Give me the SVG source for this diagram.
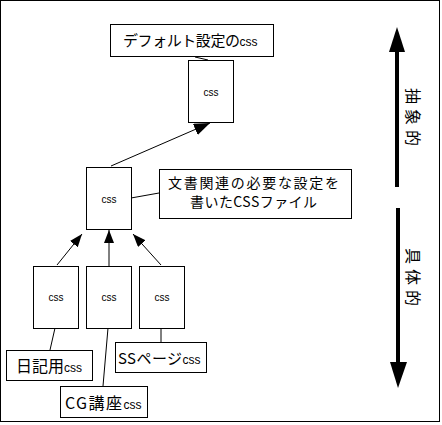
<svg xmlns="http://www.w3.org/2000/svg" width="442" height="425" viewBox="0 0 442 425">
<style>
.box{fill:#fff;stroke:#000;stroke-width:1}
.ln{stroke:#000;stroke-width:1;fill:none}
.jp{font-family:"Noto Sans CJK JP","DejaVu Sans",sans-serif;fill:#000}
.css{font-family:"Liberation Sans","DejaVu Sans",sans-serif;fill:#000}
.big{fill:#000}
</style>
<defs>
<marker id="ah" markerUnits="userSpaceOnUse" markerWidth="13" markerHeight="10" refX="13" refY="5" orient="auto"><path d="M0,0 L13,5 L0,10 z" fill="#000"/></marker>
<marker id="ahb" markerUnits="userSpaceOnUse" markerWidth="16" markerHeight="12" refX="16" refY="6" orient="auto"><path d="M0,0 L16,6 L0,12 z" fill="#000"/></marker>
</defs>
<rect x="0.5" y="0.5" width="439" height="421" fill="#fff" stroke="#000"/>
<g id="connectors">
<line class="ln" x1="195" y1="57" x2="208" y2="60"/>
<line class="ln" x1="111" y1="166" x2="210" y2="123" marker-end="url(#ahb)"/>
<line class="ln" x1="131" y1="198" x2="159" y2="193"/>
<line class="ln" x1="57" y1="265" x2="82" y2="234" marker-end="url(#ah)"/>
<line class="ln" x1="109" y1="266" x2="109" y2="230" marker-end="url(#ah)"/>
<line class="ln" x1="161" y1="265" x2="133" y2="234" marker-end="url(#ah)"/>
<line class="ln" x1="55" y1="328" x2="50" y2="350"/>
<line class="ln" x1="108" y1="328" x2="103" y2="386"/>
<line class="ln" x1="161" y1="328" x2="161" y2="342"/>
</g>
<g id="title">
<rect class="box" x="110.5" y="24.5" width="163" height="32"/>
<text x="123" y="46"><tspan class="jp" font-size="15" textLength="117" lengthAdjust="spacing">デフォルト設定の</tspan><tspan class="css" font-size="12">css</tspan></text>
</g>
<g id="css-top">
<rect class="box" x="188.5" y="60.5" width="45" height="62"/>
<text class="css" x="211" y="96" font-size="10" text-anchor="middle">css</text>
</g>
<g id="css-mid">
<rect class="box" x="86.5" y="167.5" width="45" height="62"/>
<text class="css" x="109" y="203" font-size="10" text-anchor="middle">css</text>
</g>
<g id="label-mid">
<rect class="box" x="159.5" y="169.5" width="192" height="49"/>
<text class="jp" x="168" y="188" font-size="14" textLength="171" lengthAdjust="spacing">文書関連の必要な設定を</text>
<text class="jp" x="190" y="207" font-size="14" textLength="127" lengthAdjust="spacing">書いたCSSファイル</text>
</g>
<g id="css-left">
<rect class="box" x="33.5" y="266.5" width="45" height="62"/>
<text class="css" x="56" y="301" font-size="10" text-anchor="middle">css</text>
</g>
<g id="css-center">
<rect class="box" x="86.5" y="266.5" width="45" height="62"/>
<text class="css" x="109" y="301" font-size="10" text-anchor="middle">css</text>
</g>
<g id="css-right">
<rect class="box" x="139.5" y="266.5" width="45" height="62"/>
<text class="css" x="162" y="301" font-size="10" text-anchor="middle">css</text>
</g>
<g id="label-diary">
<rect class="box" x="6.5" y="350.5" width="86" height="30"/>
<text x="16" y="372"><tspan class="jp" font-size="16">日記用</tspan><tspan class="css" font-size="12">css</tspan></text>
</g>
<g id="label-cg">
<rect class="box" x="60.5" y="386.5" width="87" height="31"/>
<text x="65" y="409"><tspan class="jp" font-size="16" textLength="57" lengthAdjust="spacing">CG講座</tspan><tspan class="css" font-size="12">css</tspan></text>
</g>
<g id="label-ss">
<rect class="box" x="115.5" y="342.5" width="91" height="30"/>
<text x="118" y="364"><tspan class="jp" font-size="15" textLength="64" lengthAdjust="spacing">SSページ</tspan><tspan class="css" font-size="12">css</tspan></text>
</g>
<g id="axis-up">
<rect class="big" x="395" y="50" width="4" height="137"/>
<polygon class="big" points="389,52 405,52 397,27"/>
<text class="jp" font-size="16" letter-spacing="5" transform="translate(407,88) rotate(90)">抽象的</text>
</g>
<g id="axis-down">
<rect class="big" x="396" y="208" width="4" height="156"/>
<polygon class="big" points="390,362 407,362 398,388"/>
<text class="jp" font-size="16" letter-spacing="5" transform="translate(407,248) rotate(90)">具体的</text>
</g>
</svg>
